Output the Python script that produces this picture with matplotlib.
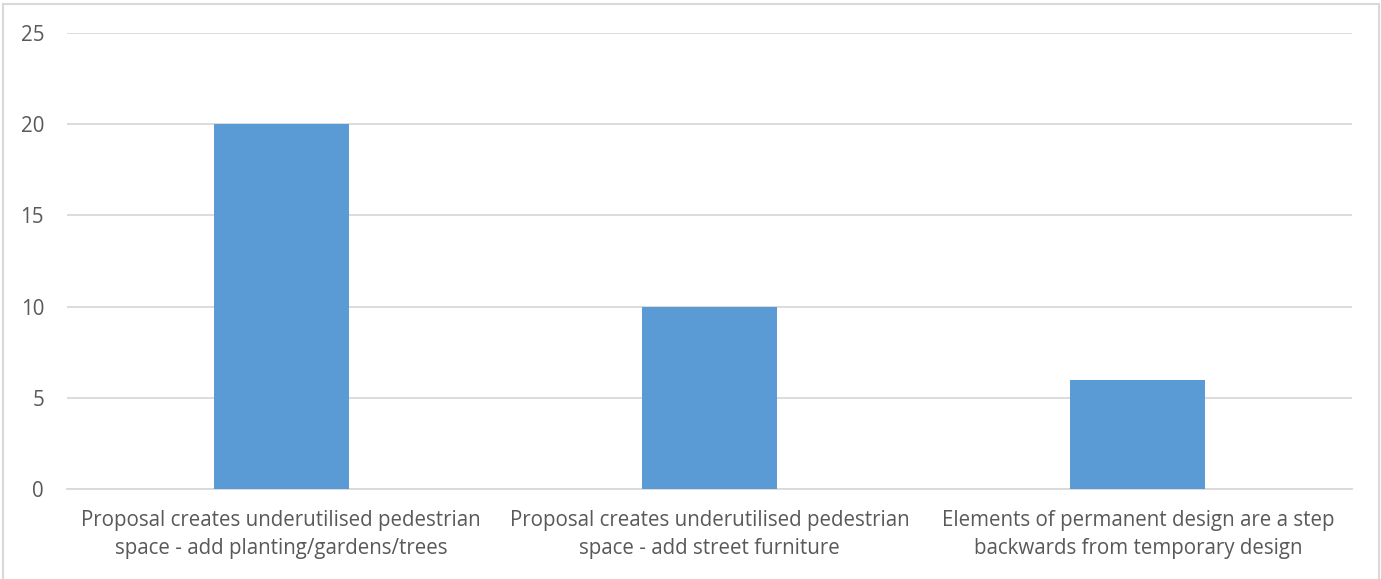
import matplotlib
matplotlib.use('Agg')
import matplotlib.pyplot as plt
from matplotlib.patches import Rectangle

categories = [
    'Proposal creates underutilised pedestrian\nspace - add planting/gardens/trees',
    'Proposal creates underutilised pedestrian\nspace - add street furniture',
    'Elements of permanent design are a step\nbackwards from temporary design',
]
values = [20, 10, 6]
yticks = [0, 5, 10, 15, 20, 25]

W, H = 1381, 579
fig = plt.figure(figsize=(W / 100, H / 100), dpi=100)
plt.rcParams['font.family'] = ['Open Sans', 'DejaVu Sans']

# chart border (bottom edge is cropped off in the original)
fig.patches.append(Rectangle((3 / W, -0.05), (W - 5) / W, 1.05 - 3.5 / H,
                             transform=fig.transFigure, fill=False,
                             edgecolor='#d9d9d9', linewidth=1.5))

left, right, top, bottom = 67, 1352, 33, 489
ax = fig.add_axes([left / W, 1 - bottom / H, (right - left) / W, (bottom - top) / H])

x = range(len(values))
ax.bar(x, values, width=0.315, color='#5b9bd5', zorder=3)
ax.set_xlim(-0.5, len(values) - 0.5)
ax.set_ylim(0, 25)
ax.set_yticks(yticks)
ax.set_xticks(list(x))
ax.set_xticklabels(categories, fontsize=14.8, color='#595959', linespacing=1.45)
ax.tick_params(axis='y', labelsize=14.8, labelcolor='#595959', length=0, pad=16.5)
ax.tick_params(axis='x', length=0, pad=15)
ax.grid(axis='y', color='#d9d9d9', linewidth=1.3, zorder=0)
for s in ['top', 'right', 'left']:
    ax.spines[s].set_visible(False)
ax.spines['bottom'].set_color('#d9d9d9')
ax.spines['bottom'].set_linewidth(1.3)

fig.savefig('out.png', dpi=100)
